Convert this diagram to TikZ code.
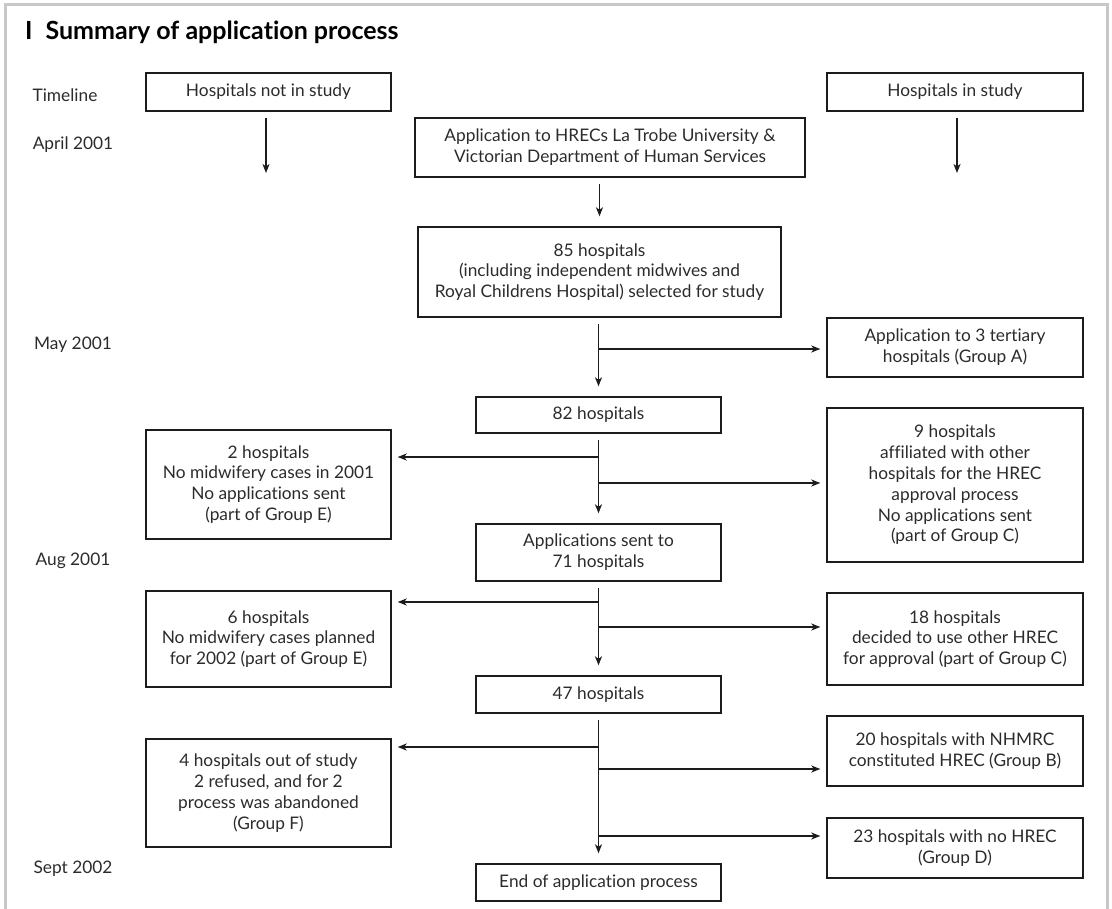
\documentclass[tikz,border=0pt]{standalone}
\usepackage{fontspec}
\setmainfont{Lato}[Ligatures={NoCommon}]
\usetikzlibrary{arrows.meta}
\definecolor{txt}{HTML}{2B2B2B}
\definecolor{ln}{HTML}{1C1C1C}
\definecolor{framegray}{HTML}{C8C8C8}

\begin{document}
\begin{tikzpicture}[
    x=1pt, y=-1pt,
    box/.style={draw=ln, line width=1.4pt, align=center, text=txt, inner sep=0pt,
      font=\fontsize{17.3}{20.8}\selectfont},
    wh/.style 2 args={minimum width=#1pt, minimum height=#2pt},
    datelbl/.style={text=txt, inner sep=0pt, font=\fontsize{17.3}{20.8}\selectfont},
    arr/.style={draw=ln, line width=1.4pt, -{Stealth[length=9pt,width=7pt,inset=2.5pt]}},
    down/.style={arr, shorten <=6pt, shorten >=10pt},
    side/.style={arr, shorten >=6pt}
  ]
  \useasboundingbox (0,0) rectangle (1112,909);
  % frame and title
  \draw[framegray, line width=3pt] (5,915) -- (5,5) -- (1107,5) -- (1107,915);
  \node[anchor=base west, inner sep=0pt, font=\fontsize{25}{28}\selectfont\bfseries] (title)
    at (25,40) {I\hspace{13pt}Summary of application process};

  % timeline
  \node[datelbl] (tl) at (65,95) {Timeline};
  \node[datelbl] (apr) at (73,145) {April 2001};
  \node[datelbl] (may) at (73,345) {May 2001};
  \node[datelbl] (aug) at (73,561) {Aug 2001};
  \node[datelbl] (sep) at (73,869) {Sept 2002};

  % column heads
  \node[box, wh={245}{38}] (notin) at (268.5,92) {Hospitals not in study};
  \node[box, wh={256}{38}] (instudy) at (955,92) {Hospitals in study};
  \coordinate (notinEnd) at (266,173);
  \coordinate (instudyEnd) at (957,173);
  \draw[arr, shorten <=6pt] (notin.south -| notinEnd) -- (notinEnd);
  \draw[arr, shorten <=6pt] (instudy.south -| instudyEnd) -- (instudyEnd);

  % main column
  \node[box, wh={390}{59}] (apply) at (610,147.5)
    {Application to HRECs La Trobe University \&\\Victorian Department of Human Services};
  \node[box, wh={363}{90}] (sel85) at (599.5,272)
    {85 hospitals\\(including independent midwives and\\Royal Childrens Hospital) selected for study};
  \node[box, wh={245}{36}] (h82) at (598.5,415) {82 hospitals};
  \node[box, wh={245}{57}] (sent71) at (598.5,552.5) {Applications sent to\\71 hospitals};
  \node[box, wh={245}{37}] (h47) at (598.5,694.5) {47 hospitals};
  \node[box, wh={245}{37}] (endp) at (598.5,882.5) {End of application process};

  % left column
  \node[box, wh={245}{109}] (two) at (268.5,484.5)
    {2 hospitals\\No midwifery cases in 2001\\No applications sent\\(part of Group E)};
  \node[box, wh={245}{96}] (six) at (268.5,639)
    {6 hospitals\\No midwifery cases planned\\for 2002 (part of Group E)};
  \node[box, wh={245}{108}] (four) at (268.5,793)
    {4 hospitals out of study\\2 refused, and for 2\\process was abandoned\\(Group F)};

  % right column
  \node[box, wh={256}{59}] (grpA) at (955,347.5) {Application to 3 tertiary\\hospitals (Group A)};
  \node[box, wh={256}{154}] (nine) at (955,485)
    {9 hospitals\\affiliated with other\\hospitals for the HREC\\approval process\\No applications sent\\(part of Group C)};
  \node[box, wh={256}{92}] (eighteen) at (955,639)
    {18 hospitals\\decided to use other HREC\\for approval (part of Group C)};
  \node[box, wh={256}{70}] (twenty) at (955,751) {20 hospitals with NHMRC\\constituted HREC (Group B)};
  \node[box, wh={256}{60}] (twentythree) at (955,848) {23 hospitals with no HREC\\(Group D)};

  % trunk
  \draw[down] (sel85.north |- apply.south) -- (sel85.north);
  \draw[down] (sel85.south -| h82) -- (h82.north);
  \draw[down] (h82) -- (sent71);
  \draw[down] (sent71) -- (h47);
  \draw[down] (h47) -- (endp);

  % branches
  \coordinate (bA) at (598.5,349);
  \coordinate (bL1) at (598.5,457);
  \coordinate (bR1) at (598.5,483);
  \coordinate (bL2) at (598.5,602);
  \coordinate (bR2) at (598.5,627);
  \coordinate (bL3) at (598.5,747);
  \coordinate (bR3) at (598.5,769);
  \coordinate (bR4) at (598.5,836);
  \draw[side] (bA) -- (bA -| grpA.west);
  \draw[side] (bL1) -- (bL1 -| two.east);
  \draw[side] (bR1) -- (bR1 -| nine.west);
  \draw[side] (bL2) -- (bL2 -| six.east);
  \draw[side] (bR2) -- (bR2 -| eighteen.west);
  \draw[side] (bL3) -- (bL3 -| four.east);
  \draw[side] (bR3) -- (bR3 -| twenty.west);
  \draw[side] (bR4) -- (bR4 -| twentythree.west);
\end{tikzpicture}
\end{document}
